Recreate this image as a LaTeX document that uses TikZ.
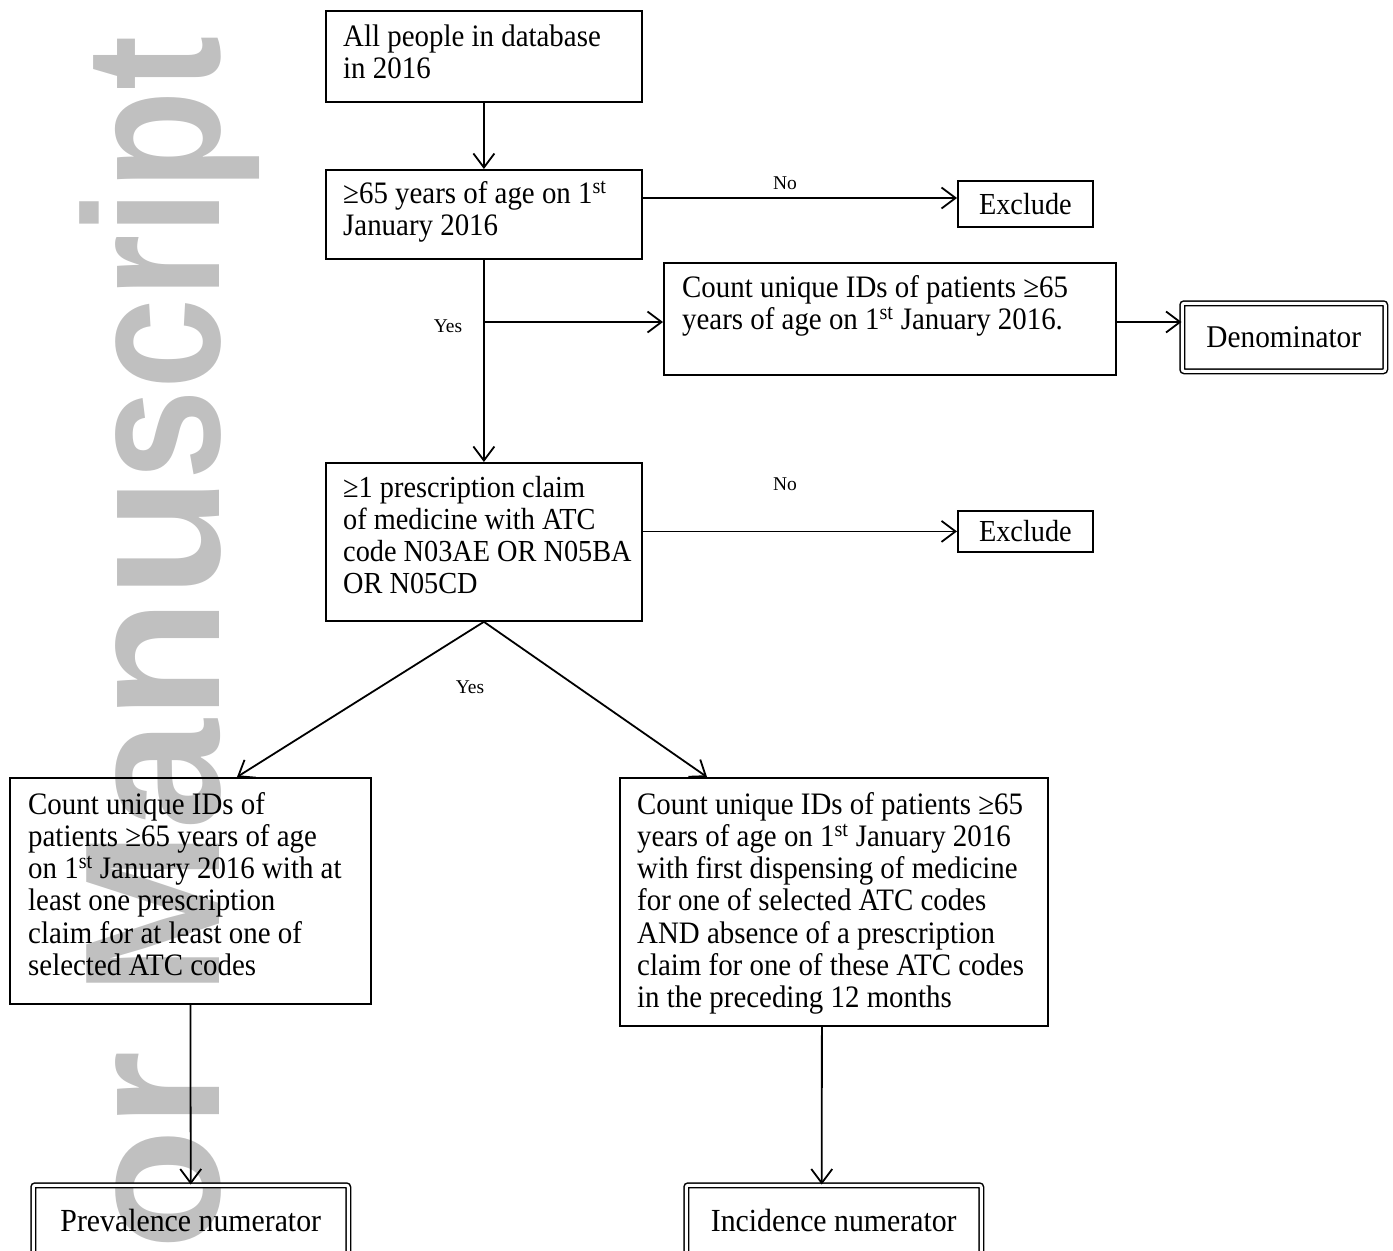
\documentclass[tikz,border=0pt]{standalone}
\usepackage{fontspec}
\usepackage{graphicx}
\setmainfont{Liberation Serif}
\newfontfamily\wmfont{Liberation Sans}
\usetikzlibrary{arrows.meta,calc}
\definecolor{wmgray}{HTML}{C0C0C0}
\newcommand{\boxtext}[2][28.9]{\scalebox{1}[1.08]{\fontsize{#1}{29.9}\selectfont\begin{tabular}[t]{@{}l@{}}#2\end{tabular}}}
\begin{document}
\begin{tikzpicture}[x=1pt,y=-1pt,
  box/.style={draw, line width=1.8pt, inner sep=0pt, anchor=north west},
  dbox/.style={draw, line width=1.5pt, double=white, double distance=3pt, rounded corners=2pt, inner sep=0pt, anchor=north west},
  txt/.style={anchor=base west, inner sep=0pt},
  lbl/.style={inner sep=0pt, font=\fontsize{19.5}{22}\selectfont},
  arr/.style={line width=1.8pt, -{Straight Barb[length=14pt,width=21pt,line width=1.8pt]}},
  wm/.style={rotate=90, anchor=base east, inner sep=0pt, text=wmgray}]
\useasboundingbox (0,0) rectangle (1393,1251);
\clip (0,0) rectangle (1393,1251);
% watermark
\node[wm] (wm1) at (219,36)
  {\scalebox{0.845}[1]{\wmfont\bfseries\fontsize{193}{193}\selectfont script}};
\node[wm] (wm2) at (219,477)
  {\scalebox{1.03}[1]{\wmfont\bfseries\fontsize{193}{193}\selectfont Author Manu}};
% boxes
\node[box, minimum width=316pt, minimum height=91pt] (b1) at (325,10) {};
\node[box, minimum width=316pt, minimum height=89pt] (b2) at (325,169) {};
\node[box, minimum width=135pt, minimum height=46pt, font=\fontsize{28.3}{32.5}\selectfont] (ex1) at (957,180) {\scalebox{1}[1.08]{Exclude}};
\node[box, minimum width=452pt, minimum height=112pt] (b3) at (663,262) {};
\node[dbox, minimum width=203pt, minimum height=68pt, font=\fontsize{29.3}{32.5}\selectfont] (den) at (1181.5,302.5) {\scalebox{1}[1.08]{Denominator}};
\node[box, minimum width=316pt, minimum height=158pt] (b4) at (325,462) {};
\node[box, minimum width=135pt, minimum height=41pt, font=\fontsize{28.3}{32.5}\selectfont] (ex2) at (957,510) {\scalebox{1}[1.08]{Exclude}};
\node[box, minimum width=361pt, minimum height=226pt] (b5) at (9,777) {};
\node[box, minimum width=428pt, minimum height=248pt] (b6) at (619,777) {};
\node[dbox, minimum width=315pt, minimum height=70pt, font=\fontsize{29.8}{32.5}\selectfont] (prev) at (32.5,1184.5) {\scalebox{1}[1.08]{Prevalence numerator}};
\node[dbox, minimum width=295pt, minimum height=70pt, font=\fontsize{29.8}{32.5}\selectfont] (inc) at (685.5,1184.5) {\scalebox{1}[1.08]{Incidence numerator}};
% texts
\node[txt] (t1) at (343,46) {\boxtext{All people in database\\in 2016}};
\node[txt] (t2) at (343,203) {\boxtext{≥65 years of age on 1\textsuperscript{st}\\January 2016}};
\node[txt] (t3) at (682,297) {\boxtext{Count unique IDs of patients ≥65\\years of age on 1\textsuperscript{st} January 2016.}};
\node[txt] (t4) at (343,497) {\boxtext[28.3]{≥1 prescription claim\\of medicine with ATC\\code N03AE OR N05BA\\OR N05CD}};
\node[txt] (t5) at (28,814) {\boxtext{Count unique IDs of\\patients ≥65 years of age\\on 1\textsuperscript{st} January 2016 with at\\least one prescription\\claim for at least one of\\selected ATC codes}};
\node[txt] (t6) at (637,814) {\boxtext{Count unique IDs of patients ≥65\\years of age on 1\textsuperscript{st} January 2016\\with first dispensing of medicine\\for one of selected ATC codes\\AND absence of a prescription\\claim for one of these ATC codes\\in the preceding 12 months}};
% labels
\node[lbl] (no1) at (785,183) {No};
\node[lbl] (no2) at (785,484) {No};
\node[lbl] (yes1) at (448,326) {Yes};
\node[lbl] (yes2) at (470,687) {Yes};
% connectors
\coordinate (br) at (483,322);
\coordinate (r1) at (641,198);
\draw[arr] (b1.south) -- (b2.north);
\draw[arr] (b2.east |- r1) -- (ex1.west |- r1);
\draw[arr] (b2.south) -- (b4.north);
\draw[arr] (br) -- (b3.west |- br);
\draw[arr] (b3.east |- br) -- (den.west |- br);
\draw[arr] (b4.east |- ex2.west) -- (ex2.west);
\draw[arr] (b4.south) -- ($(b5.north west)+(228,0)$);
\draw[arr] (b4.south) -- ($(b6.north west)+(88,0)$);
\draw[arr] (b5.south) -- (prev.north);
\draw[arr] ([xshift=-12pt]b6.south) -- ([xshift=-12pt]inc.north);
\end{tikzpicture}
\end{document}
